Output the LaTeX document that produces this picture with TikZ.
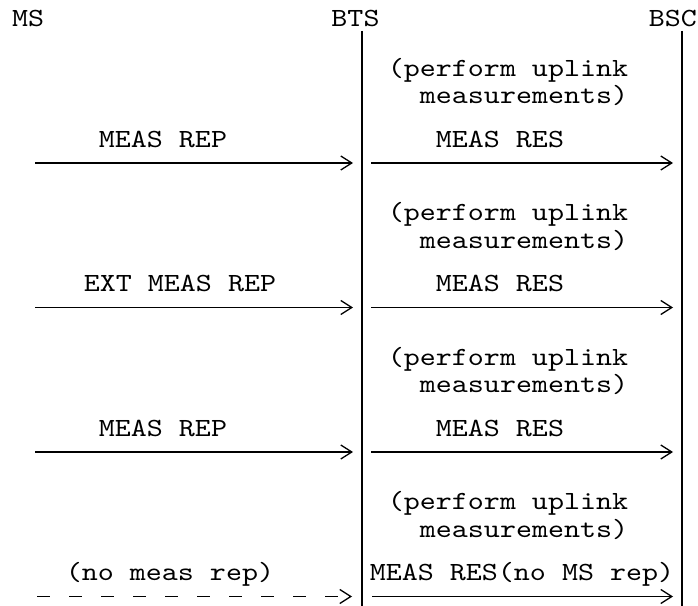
\documentclass[tikz,border=0pt]{standalone}
\usepackage{fontspec}
\setmonofont[FakeStretch=1.164]{lmmono10-regular.otf}
\usetikzlibrary{arrows.meta}

\tikzset{
	msg/.style={font=\ttfamily\fontsize{26.2bp}{23bp}\selectfont, inner sep=0pt, anchor=base},
	note/.style={msg, font=\ttfamily\fontsize{26.2bp}{27.5bp}\selectfont, anchor=center, align=right},
	life/.style={line width=1.8bp},
	sig/.style={line width=1.4bp, -{Straight Barb[length=11bp,width=14bp,line width=1.3bp]}},
}

\begin{document}
\setlength{\lineskiplimit}{-40pt}
\begin{tikzpicture}[x=1bp,y=1bp]
	\useasboundingbox (0,0) rectangle (698,606);

	\node[msg, anchor=base west] (ms) at (12,579) {MS};
	\node[msg] (bts) at (355.5,579) {BTS};
	\node[msg, anchor=base east] (bsc) at (697,579) {BSC};

	\coordinate (btstop) at (362,575);
	\coordinate (btsend) at (362,0);
	\coordinate (bsctop) at (682,575);
	\coordinate (bscend) at (682,0);
	\draw[life] (btstop) -- (btsend);
	\draw[life] (bsctop) -- (bscend);

	\foreach \r/\y in {1/524,2/379.5,3/235,4/90.5}
		\node[note] (upl\r) at (508,\y) {(perform uplink\\measurements)};

	\coordinate (ms1) at (35,443);
	\coordinate (bts1) at (353,443);
	\coordinate (btsout1) at (371,443);
	\coordinate (bsc1) at (673,443);
	\draw[sig] (ms1) -- (bts1);
	\draw[sig] (btsout1) -- (bsc1);
	\node[msg] (rep1) at (163,458.5) {MEAS REP};
	\node[msg] (res1) at (500,458.5) {MEAS RES};

	\coordinate (ms2) at (35,298.5);
	\coordinate (bts2) at (353,298.5);
	\coordinate (btsout2) at (371,298.5);
	\coordinate (bsc2) at (673,298.5);
	\draw[sig] (ms2) -- (bts2);
	\draw[sig] (btsout2) -- (bsc2);
	\node[msg] (rep2) at (180,314) {EXT MEAS REP};
	\node[msg] (res2) at (500,314) {MEAS RES};

	\coordinate (ms3) at (35,154);
	\coordinate (bts3) at (353,154);
	\coordinate (btsout3) at (371,154);
	\coordinate (bsc3) at (673,154);
	\draw[sig] (ms3) -- (bts3);
	\draw[sig] (btsout3) -- (bsc3);
	\node[msg] (rep3) at (163,169.5) {MEAS REP};
	\node[msg] (res3) at (500,169.5) {MEAS RES};

	\coordinate (ms4) at (37,9.5);
	\coordinate (bts4) at (352,9.5);
	\coordinate (btsout4) at (372,9.5);
	\coordinate (bsc4) at (673,9.5);
	\draw[sig, dash pattern=on 13bp off 19bp] (ms4) -- (bts4);
	\draw[sig] (btsout4) -- (bsc4);
	\node[msg] (rep4) at (170,25) {(no meas rep)};
	\node[msg] (res4) at (522,25) {MEAS RES(no MS rep)};
\end{tikzpicture}
\end{document}
